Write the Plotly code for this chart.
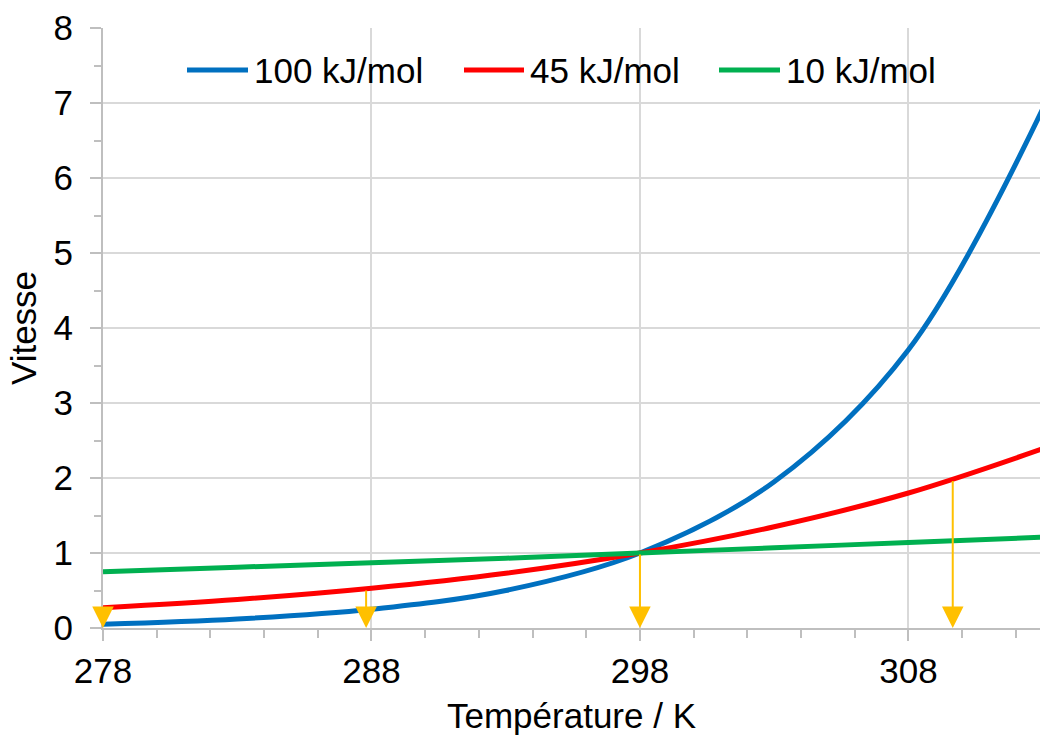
import plotly.graph_objects as go

# ---- data ----
temperature = [278, 283, 288, 293, 298, 303, 308, 313]
v_100 = [0.05, 0.12, 0.25, 0.50, 1.00, 1.95, 3.71, 6.92]
v_45 = [0.27, 0.38, 0.53, 0.73, 1.00, 1.35, 1.80, 2.39]
v_10 = [0.75, 0.81, 0.87, 0.93, 1.00, 1.07, 1.14, 1.21]
series_names = ["100 kJ/mol", "45 kJ/mol", "10 kJ/mol"]

arrow_x = [278, 287.8, 298, 309.65]
arrow_top = [0.27, 0.52, 1.00, 1.98]

colors = ["#0070C0", "#FF0000", "#00B050"]
arrow_color = "#FFC000"
FONT = "Liberation Sans, Arial, sans-serif"
FS = 35

W, H = 1040, 737
ML, MT, MR = 103, 28, 0
MB = H - 628
PW = W - ML - MR
PH = H - MT - MB

fig = go.Figure()
for name, vals, col in zip(series_names, [v_100, v_45, v_10], colors):
    fig.add_trace(go.Scatter(
        x=temperature, y=vals, name=name, mode="lines", showlegend=False,
        line=dict(color=col, width=5, shape="spline", smoothing=1.0),
    ))

for xa, ya in zip(arrow_x, arrow_top):
    fig.add_annotation(
        x=xa, y=0, ax=xa, ay=ya, xref="x", yref="y", axref="x", ayref="y",
        text="", showarrow=True, arrowhead=2, arrowsize=2.15, arrowwidth=2,
        arrowcolor=arrow_color, standoff=0,
    )

# legend drawn as line samples + labels across the top of the plot (px)
legend_line_px = [(187, 248), (464, 524), (719, 780)]
legend_y = 1 - (70 - MT) / PH
for (x0, x1), name, col in zip(legend_line_px, series_names, colors):
    fig.add_shape(type="line", xref="paper", yref="paper",
                  x0=(x0 - ML) / PW, x1=(x1 - ML) / PW, y0=legend_y, y1=legend_y,
                  line=dict(color=col, width=5))
    fig.add_annotation(xref="paper", yref="paper", x=(x1 + 4 - ML) / PW, y=legend_y,
                       xanchor="left", yanchor="middle", text=name, showarrow=False,
                       font=dict(size=FS, family=FONT, color="#000000"))

grid_col = "#D9D9D9"
axis_col = "#BFBFBF"

fig.update_layout(
    width=W, height=H,
    margin=dict(l=ML, r=MR, t=MT, b=MB, autoexpand=False),
    paper_bgcolor="white", plot_bgcolor="white",
    font=dict(family=FONT, size=FS, color="#000000"),
    showlegend=False,
    xaxis=dict(
        range=[278, 312.9], tick0=278, dtick=10,
        showgrid=True, gridcolor=grid_col, gridwidth=2,
        showline=True, linecolor=axis_col, linewidth=2,
        ticks="outside", ticklen=11, tickwidth=2, tickcolor=axis_col,
        minor=dict(dtick=2, tick0=278, ticks="outside", ticklen=8,
                   tickwidth=2, tickcolor=axis_col, showgrid=False),
        zeroline=False, automargin=False,
        title=dict(text="Température / K", font=dict(size=FS, family=FONT), standoff=14),
        tickfont=dict(size=FS, family=FONT),
    ),
    yaxis=dict(
        range=[0, 8], dtick=1,
        showgrid=True, gridcolor=grid_col, gridwidth=2,
        showline=True, linecolor=axis_col, linewidth=2,
        ticks="outside", ticklen=11, tickwidth=2, tickcolor=axis_col,
        minor=dict(dtick=0.5, ticks="outside", ticklen=7,
                   tickwidth=2, tickcolor=axis_col, showgrid=False),
        zeroline=False, automargin=False, ticklabelstandoff=10,
        title=dict(text="Vitesse", font=dict(size=FS, family=FONT), standoff=6),
        tickfont=dict(size=FS, family=FONT),
    ),
)

fig.write_html(
    "out.html",
    config={"displayModeBar": False},
    post_script="document.body.style.margin='0';document.body.style.overflow='hidden';",
)
